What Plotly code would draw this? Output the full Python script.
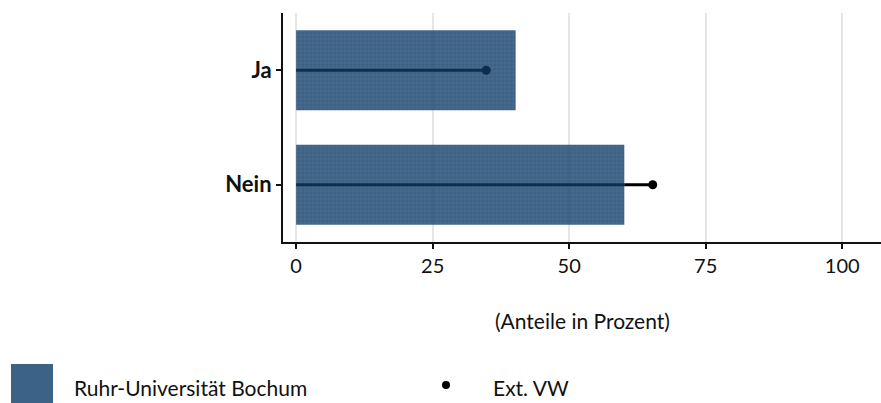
import plotly.graph_objects as go

# Daten
kategorien = ["Ja", "Nein"]
anteil_rub = [40.2, 60.1]      # Ruhr-Universität Bochum (Balken)
anteil_ext = [34.8, 65.3]      # Ext. VW (Punkte)
x_ticks = [0, 25, 50, 75, 100]

FONT = "Lato"
BAR_COLOR = "#0f3b67"
TXT = "#111111"
NAVY = "#0c2f50"   # schwarz durch den halbtransparenten Balken gesehen

# Linien von 0 bis zum Vergleichswert: innerhalb des Balkens dunkelblau,
# ausserhalb schwarz
in_x, in_y, out_x, out_y, dot_col = [], [], [], [], []
for kat, rub, ext in zip(kategorien, anteil_rub, anteil_ext):
    in_x += [0, min(rub, ext), None]
    in_y += [kat, kat, None]
    if ext > rub:
        out_x += [rub, ext, None]
        out_y += [kat, kat, None]
    dot_col.append(NAVY if ext <= rub else "black")

fig = go.Figure()
fig.add_trace(go.Bar(
    x=anteil_rub, y=kategorien, orientation="h",
    width=0.7,
    marker=dict(color=BAR_COLOR, line=dict(width=0),
                pattern=dict(shape="+", fgcolor="#6d8fb3", fgopacity=0.25,
                             size=4, solidity=0.2)),
    opacity=0.8,
    showlegend=False,
))
fig.add_trace(go.Scatter(
    x=in_x, y=in_y, mode="lines",
    line=dict(color=NAVY, width=3),
    showlegend=False,
))
fig.add_trace(go.Scatter(
    x=out_x, y=out_y, mode="lines",
    line=dict(color="black", width=3),
    showlegend=False,
))
fig.add_trace(go.Scatter(
    x=anteil_ext, y=kategorien, mode="markers",
    marker=dict(color=dot_col, size=9),
    showlegend=False,
))

# Plotbereich in Pixeln -> Papierkoordinaten für Legende/Achsentitel
W, H = 881, 403
L, R, T, B = 283, 0, 13, 161
pw, ph = W - L - R, H - T - B


def px(x):
    return (x - L) / pw


def py(y):
    return (H - B - y) / ph


shapes = [
    dict(type="rect", xref="paper", yref="paper",
         x0=px(11), x1=px(53), y0=py(364), y1=py(406),
         fillcolor="#3c6288", line=dict(width=0)),
    dict(type="circle", xref="paper", yref="paper",
         x0=px(442), x1=px(450), y0=py(381), y1=py(389),
         fillcolor="black", line=dict(width=0)),
]
annotations = [
    dict(text="(Anteile in Prozent)", xref="paper", yref="paper",
         x=0.5, y=py(320), xanchor="center", yanchor="middle",
         showarrow=False, font=dict(size=21, color=TXT)),
    dict(text="Ruhr-Universität Bochum", xref="paper", yref="paper",
         x=px(72), y=py(387), xanchor="left", yanchor="middle",
         showarrow=False, font=dict(size=21, color=TXT)),
    dict(text="Ext. VW", xref="paper", yref="paper",
         x=px(491), y=py(387), xanchor="left", yanchor="middle",
         showarrow=False, font=dict(size=21, color=TXT)),
]

fig.update_layout(
    width=W, height=H,
    margin=dict(l=L, r=R, t=T, b=B, autoexpand=False),
    plot_bgcolor="white", paper_bgcolor="white",
    font=dict(family=FONT, color=TXT),
    shapes=shapes,
    annotations=annotations,
    xaxis=dict(
        range=[-2.4, 107.1], tickvals=x_ticks,
        showgrid=True, gridcolor="#e6e6e6", gridwidth=1.5,
        zeroline=False, automargin=False,
        showline=True, linecolor=TXT, linewidth=2,
        ticks="outside", ticklen=5, tickwidth=1.5, tickcolor=TXT,
        tickfont=dict(size=20, color=TXT),
        fixedrange=True,
    ),
    yaxis=dict(
        categoryorder="array", categoryarray=["Nein", "Ja"],
        range=[-0.5, 1.5], automargin=False,
        showgrid=False, zeroline=False,
        showline=True, linecolor=TXT, linewidth=2,
        ticks="outside", ticklen=5, tickwidth=1.5, tickcolor=TXT,
        tickfont=dict(size=22, color=TXT, family=FONT, weight="bold"),
        fixedrange=True,
    ),
)

fig.write_html("out.html", config={"displayModeBar": False},
               post_script="document.body.style.margin='0';")
